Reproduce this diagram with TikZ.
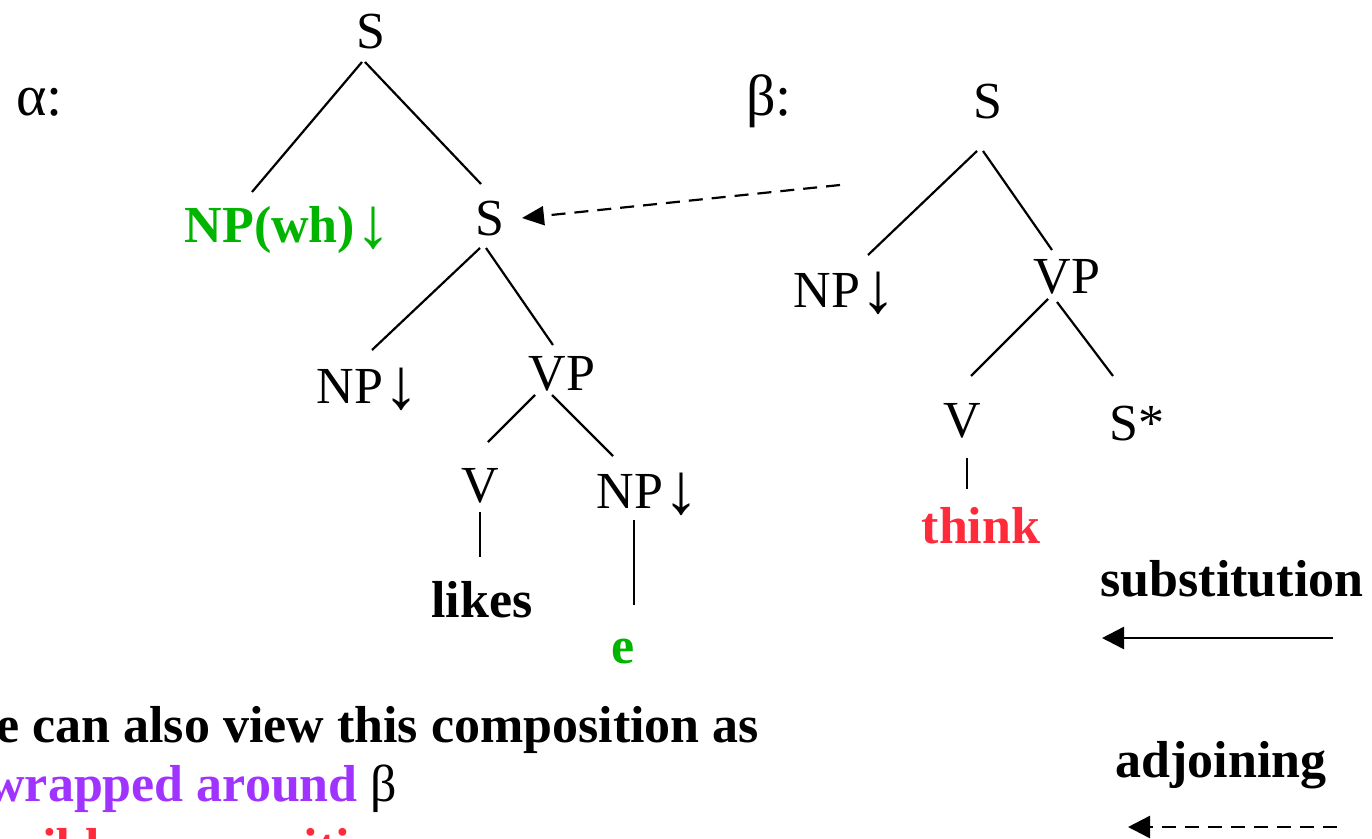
\documentclass[tikz,border=0pt]{standalone}
\usepackage{fontspec}
\setmainfont{Liberation Serif}
\usepackage{xcolor}
\definecolor{whgreen}{HTML}{00B400}
\definecolor{lexred}{HTML}{FF2A3A}
\definecolor{wrappurple}{HTML}{A033FF}
\usetikzlibrary{arrows.meta}
\newcommand{\dnarr}{\raisebox{-5pt}{\fontsize{72}{72}\selectfont ↓}}

\tikzset{
  lbl/.style={inner sep=0pt, anchor=base, font=\fontsize{52}{60}\selectfont},
  lex/.style={lbl, font=\fontsize{52}{60}\selectfont\bfseries},
  branch/.style={line width=2.2pt},
  adjarrow/.style={line width=2.2pt, dash pattern=on 14pt off 9pt, -{Triangle[length=22pt,width=19pt]}},
  subarrow/.style={line width=2.5pt, -{Triangle[length=22pt,width=22pt]}}
}

\begin{document}
\begin{tikzpicture}[x=1pt,y=-1pt]
  \fill[white] (0,0) rectangle (1372,838);
  \useasboundingbox (0,0) rectangle (1372,838);
  \clip (0,0) rectangle (1372,838);
  % Tree alpha
  \node[lbl,anchor=base west,font=\fontsize{58}{60}\selectfont] (alab) at (16,115) {α:};
  \node[lbl] (aS) at (371,48) {S};
  \node[lex,whgreen] (awh) at (288,242) {NP(wh)\dnarr};
  \node[lbl] (aS2) at (490,235) {S};
  \node[lbl] (aNP) at (368,403) {NP\dnarr};
  \node[lbl] (aVP) at (562,390) {VP};
  \node[lbl] (aV) at (480,502) {V};
  \node[lbl] (aNPo) at (648,508) {NP\dnarr};
  \node[lex] (likes) at (482,617) {likes};
  \node[lex,whgreen] (e) at (623,663) {e};
  \draw[branch] ([xshift=-9pt,yshift=-14pt]aS.base) -- ([xshift=-36pt,yshift=50pt]awh.base);
  \draw[branch] ([xshift=-6pt,yshift=-14pt]aS.base) -- ([xshift=-9pt,yshift=51pt]aS2.base);
  \draw[branch] ([xshift=-10pt,yshift=-13pt]aS2.base) -- ([xshift=4pt,yshift=53pt]aNP.base);
  \draw[branch] ([xshift=-4pt,yshift=-13pt]aS2.base) -- ([xshift=-9pt,yshift=45pt]aVP.base);
  \draw[branch] ([xshift=-27pt,yshift=-5pt]aVP.base) -- ([xshift=8pt,yshift=60pt]aV.base);
  \draw[branch] ([xshift=-10pt,yshift=-5pt]aVP.base) -- ([xshift=-35pt,yshift=52pt]aNPo.base);
  \draw[branch] ([yshift=-10pt]aV.base) -- ([xshift=-2pt,yshift=60pt]likes.base);
  \draw[branch] ([xshift=-14pt,yshift=-12pt]aNPo.base) -- ([xshift=11pt,yshift=58pt]e.base);
  % Tree beta
  \node[lbl,anchor=base west,font=\fontsize{58}{60}\selectfont] (blab) at (746,115) {β:};
  \node[lbl] (bS) at (988,118) {S};
  \node[lbl] (bNP) at (845,307) {NP\dnarr};
  \node[lbl] (bVP) at (1067,293) {VP};
  \node[lbl] (bV) at (962,437) {V};
  \node[lbl] (bfoot) at (1137,440) {S*};
  \node[lex,lexred] (think) at (981,543) {think};
  \draw[branch] ([xshift=-11pt,yshift=-33pt]bS.base) -- ([xshift=23pt,yshift=52pt]bNP.base);
  \draw[branch] ([xshift=-5pt,yshift=-33pt]bS.base) -- ([xshift=-15pt,yshift=43pt]bVP.base);
  \draw[branch] ([xshift=-19pt,yshift=-6pt]bVP.base) -- ([xshift=9pt,yshift=61pt]bV.base);
  \draw[branch] ([xshift=-10pt,yshift=-9pt]bVP.base) -- ([xshift=-24pt,yshift=64pt]bfoot.base);
  \draw[branch] ([xshift=5pt,yshift=-21pt]bV.base) -- ([xshift=-14pt,yshift=54pt]think.base);
  % Adjoining beta into alpha
  \coordinate (adjsrc) at (840,185);
  \draw[adjarrow] (adjsrc) -- ([xshift=32pt,yshift=17pt]aS2.base);
  % Legend
  \node[lex] (subst) at (1232,596) {substitution};
  \coordinate (subR) at (1333,638);
  \coordinate (subL) at (1102,638);
  \draw[subarrow] (subR) -- (subL);
  \node[lex] (adjoin) at (1221,777) {adjoining};
  \coordinate (adjR) at (1337,827);
  \coordinate (adjL) at (1128,827);
  \draw[adjarrow,line width=2.5pt,-{Triangle[length=22pt,width=22pt]}] (adjR) -- (adjL);
  % Caption (cut off by the frame)
  \node[lex,anchor=base west] (cap1) at (-53,742) {We can also view this composition as};
  \node[lex,anchor=base west] (cap2) at (-53,801) {\mdseries α \bfseries\textcolor{wrappurple}{wrapped around} \mdseries β};
  \node[lex,lexred,anchor=base west] (cap3) at (-53,864) {Flexible composition};
\end{tikzpicture}
\end{document}
